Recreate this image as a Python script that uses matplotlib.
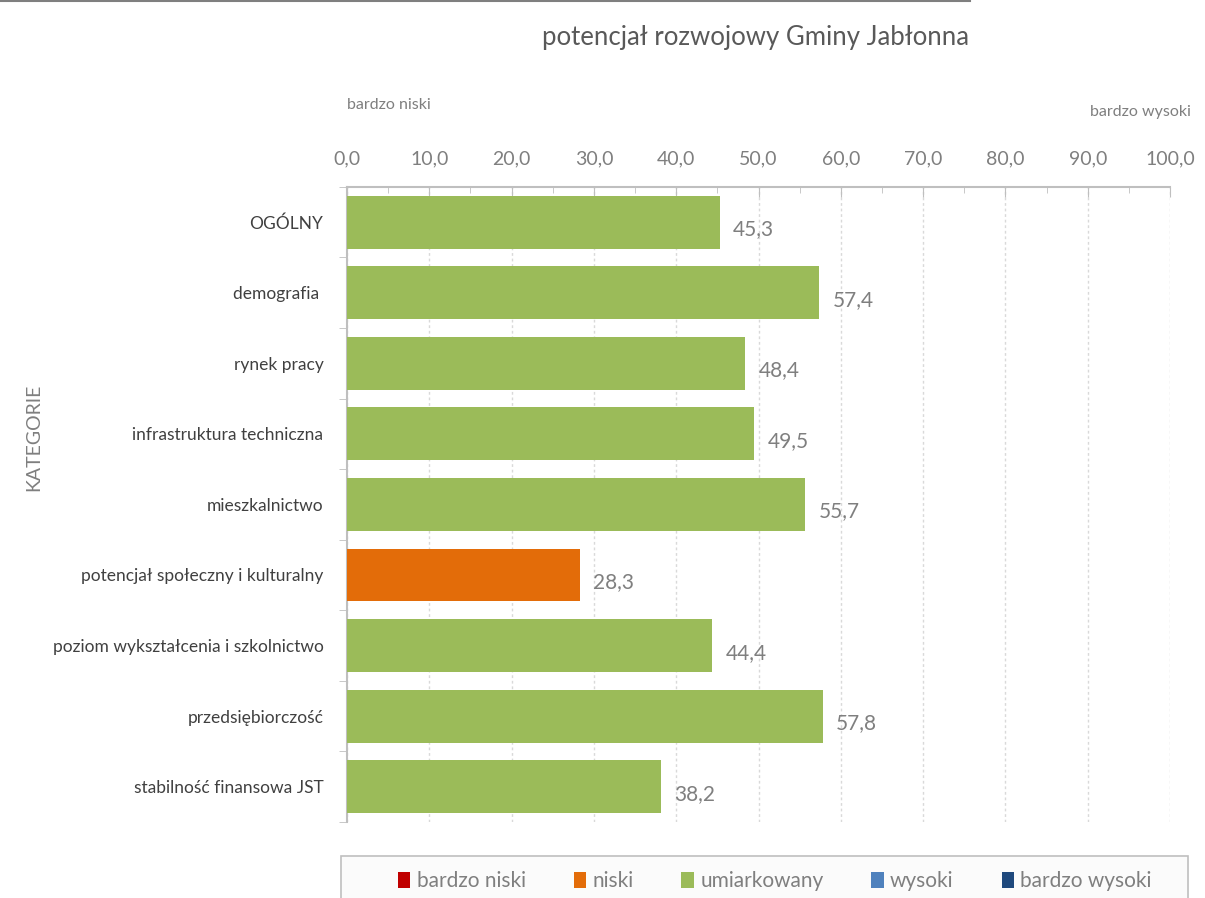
import matplotlib.pyplot as plt
from matplotlib.lines import Line2D
from matplotlib.patches import Patch, Rectangle

plt.rcParams['font.family'] = ['Lato', 'DejaVu Sans']

kategorie = ['OGÓLNY', 'demografia ', 'rynek pracy', 'infrastruktura techniczna',
             'mieszkalnictwo', 'potencjał społeczny i kulturalny',
             'poziom wykształcenia i szkolnictwo', 'przedsiębiorczość',
             'stabilność finansowa JST']
wartosci = [45.3, 57.4, 48.4, 49.5, 55.7, 28.3, 44.4, 57.8, 38.2]
poziomy = ['umiarkowany', 'umiarkowany', 'umiarkowany', 'umiarkowany', 'umiarkowany',
           'niski', 'umiarkowany', 'umiarkowany', 'umiarkowany']
os_x = [0, 10, 20, 30, 40, 50, 60, 70, 80, 90, 100]

legenda = ['bardzo niski', 'niski', 'umiarkowany', 'wysoki', 'bardzo wysoki']
kolory = {'bardzo niski': '#c00000', 'niski': '#e36c09', 'umiarkowany': '#9bbb59',
          'wysoki': '#4f81bd', 'bardzo wysoki': '#1f497d'}

szary = '#7f7f7f'

fig = plt.figure(figsize=(12.05, 8.98), dpi=100)
ax = fig.add_axes([0.288, 0.0846, 0.683, 0.7074])

y = range(len(kategorie))
ax.barh(y, wartosci, height=0.75, color=[kolory[p] for p in poziomy], zorder=3)
for i, v in enumerate(wartosci):
    ax.text(v + 1.6, i + 0.1, f'{v:.1f}'.replace('.', ','), va='center', ha='left',
            fontsize=15, color=szary)

ax.set_xlim(0, 100)
ax.set_ylim(len(kategorie) - 0.5, -0.5)
ax.xaxis.tick_top()
ax.set_xticks(os_x)
ax.set_xticklabels([f'{t:.1f}'.replace('.', ',') for t in os_x])
ax.set_xticks([t + 5 for t in os_x[:-1]], minor=True)
ax.tick_params(axis='x', which='major', direction='in', length=7, color='#bfbfbf',
               labelsize=14, labelcolor=szary, pad=14)
ax.tick_params(axis='x', which='minor', direction='in', length=4, color='#bfbfbf')

ax.set_yticks(list(y))
ax.set_yticklabels(kategorie)
ax.set_yticks([i - 0.5 for i in range(len(kategorie) + 1)], minor=True)
ax.tick_params(axis='y', which='major', length=0, labelsize=12.5, labelcolor='#404040', pad=17)
ax.tick_params(axis='y', which='minor', direction='out', length=6, color='#bfbfbf')

ax.grid(axis='x', which='major', color='#d9d9d9', linestyle=(0, (2, 2)), linewidth=1, zorder=0)
for s in ['right', 'bottom']:
    ax.spines[s].set_visible(False)
ax.spines['top'].set_color('#bfbfbf')
ax.spines['top'].set_linewidth(1.5)
ax.spines['left'].set_color('#bfbfbf')
ax.spines['left'].set_linewidth(1.5)

ax.set_ylabel('KATEGORIE', fontsize=14, color=szary)
ax.yaxis.set_label_coords(-0.37, 0.606)

fig.text(0.627, 0.958, 'potencjał rozwojowy Gminy Jabłonna', ha='center', va='center',
         fontsize=18.5, color='#595959')
fig.text(0.288, 0.883, 'bardzo niski', ha='left', va='center', fontsize=11.5, color=szary)
fig.text(0.988, 0.875, 'bardzo wysoki', ha='right', va='center', fontsize=11.5, color=szary)

fig.add_artist(Line2D([0, 0.805], [0.999, 0.999], color=szary, linewidth=1.5))

# ramka legendy wychodzi poza dolną krawędź, jak w oryginale
fig.add_artist(Rectangle((0.283, -0.02), 0.703, 0.067, transform=fig.transFigure,
                         facecolor='#fbfbfb', edgecolor='#bfbfbf', linewidth=1.2))
uchwyty = [Patch(facecolor=kolory[n], label=n) for n in legenda]
leg = fig.legend(handles=uchwyty, loc='center', bbox_to_anchor=(0.643, 0.019),
                 ncol=5, frameon=False, fontsize=15, handlelength=0.6,
                 handleheight=0.8, handletextpad=0.3, columnspacing=2.3,
                 borderpad=0, borderaxespad=0, labelcolor=szary)

fig.savefig('out.png', dpi=100)
